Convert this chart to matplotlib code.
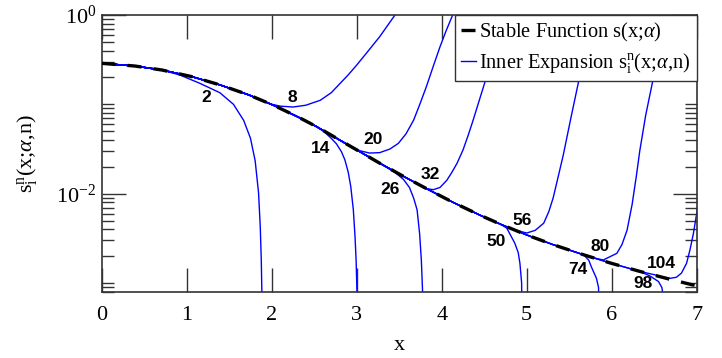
import numpy as np
import matplotlib.pyplot as plt
from matplotlib.ticker import LogLocator, NullFormatter

plt.rcParams['font.family'] = 'Liberation Serif'
plt.rcParams['mathtext.fontset'] = 'custom'
plt.rcParams['mathtext.rm'] = 'Liberation Serif'
plt.rcParams['mathtext.it'] = 'Liberation Serif:italic'

# stable density s(x; alpha)
stable_x = [0.0, 0.39, 0.71, 1.06, 1.39, 1.73, 2.04, 2.33, 2.53, 2.92, 3.24, 3.51,
            3.82, 4.14, 4.45, 4.69, 5.00, 5.31, 5.67, 5.98, 6.33, 6.72, 7.00]
stable_y = [0.2877, 0.2685, 0.2421, 0.2042, 0.1652, 0.1276, 0.0959, 0.0706, 0.0561,
            0.0342, 0.0228, 0.0164, 0.0114, 0.00794, 0.00575, 0.00456, 0.00345,
            0.00269, 0.00207, 0.00168, 0.00135, 0.00108, 0.00093]

# truncated inner expansions: each runs along the stable curve up to
# the given index, then follows its own tail
x2 = [0.92, 1.155, 1.39, 1.55, 1.67, 1.75, 1.805, 1.845, 1.865, 1.877, 1.884, 1.888]
y2 = [0.2128, 0.1718, 0.1349, 0.1000, 0.0661, 0.0417, 0.0234, 0.01023, 0.00427,
      0.00182, 0.00079, 0.0001]

x8 = [1.98, 2.10, 2.25, 2.40, 2.57, 2.70, 2.80, 2.90, 3.00, 3.12, 3.27, 3.45, 3.52]
y8 = [0.1012, 0.0955, 0.0933, 0.0977, 0.1109, 0.1349, 0.1698, 0.2138, 0.2754, 0.3802,
      0.5715, 1.0, 1.202]

x14 = [2.62, 2.70, 2.76, 2.82, 2.86, 2.90, 2.93, 2.96, 2.98, 2.993, 3.003, 3.01]
y14 = [0.0490, 0.0417, 0.0363, 0.0295, 0.0240, 0.0174, 0.0120, 0.00661, 0.00331,
       0.00178, 0.00079, 0.0001]

x20 = [3.04, 3.15, 3.27, 3.39, 3.49, 3.58, 3.67, 3.75, 3.82, 3.90, 3.98, 4.05, 4.12, 4.16]
y20 = [0.0302, 0.0285, 0.0288, 0.0316, 0.0366, 0.0468, 0.0668, 0.1047, 0.1585, 0.2661,
       0.4416, 0.6607, 0.955, 1.202]

x26 = [3.45, 3.55, 3.62, 3.67, 3.71, 3.74, 3.76, 3.775, 3.782]
y26 = [0.0173, 0.01445, 0.01175, 0.00891, 0.00661, 0.00355, 0.00182, 0.00079, 0.0001]

x32 = [3.90, 3.98, 4.06, 4.12, 4.18, 4.25, 4.31, 4.37, 4.44, 4.51, 4.60, 4.68, 4.76, 4.80]
y32 = [0.01109, 0.01175, 0.01413, 0.01738, 0.02188, 0.0308, 0.0447, 0.0668, 0.1096,
       0.1795, 0.339, 0.603, 1.047, 1.318]

x50 = [4.765, 4.86, 4.90, 4.92, 4.94, 4.948]
y50 = [0.00412, 0.00279, 0.00219, 0.00166, 0.0010, 0.0001]

x56 = [4.85, 5.0, 5.1, 5.2, 5.26, 5.31, 5.37, 5.43, 5.52, 5.61, 5.69, 5.77, 5.80]
y56 = [0.00394, 0.00363, 0.00389, 0.00468, 0.00631, 0.00891, 0.01549, 0.0271, 0.0708,
       0.1795, 0.407, 0.933, 1.20]

x74 = [5.73, 5.76, 5.82, 5.845, 5.858]
y74 = [0.0018, 0.00152, 0.00113, 0.00089, 0.0001]

x80 = [5.80, 5.90, 6.06, 6.12, 6.18, 6.24, 6.29, 6.33, 6.40, 6.48, 6.56, 6.63, 6.66]
y80 = [0.0019, 0.00181, 0.00215, 0.00269, 0.00389, 0.00759, 0.01585, 0.0302, 0.0759,
       0.1778, 0.417, 0.891, 1.20]

x98 = [6.45, 6.55, 6.59, 6.615, 6.625]
y98 = [0.0012, 0.00104, 0.00089, 0.00063, 0.0001]

x104 = [6.50, 6.60, 6.69, 6.76, 6.82, 6.88, 6.92, 6.96, 7.00, 7.04]
y104 = [0.00124, 0.00117, 0.00113, 0.00116, 0.00129, 0.00166, 0.00234, 0.00355, 0.00604, 0.0112]

# (n, number of leading stable points, tail x, tail y)
curves = [(2, 3, x2, y2), (8, 6, x8, y8), (14, 9, x14, y14), (20, 10, x20, y20),
          (26, 11, x26, y26), (32, 13, x32, y32), (50, 16, x50, y50), (56, 16, x56, y56),
          (74, 19, x74, y74), (80, 19, x80, y80), (98, 21, x98, y98), (104, 21, x104, y104)]

# label positions for the order n
label_n = [2, 8, 14, 20, 26, 32, 50, 56, 74, 80, 98, 104]
label_x = [1.23, 2.24, 2.57, 3.19, 3.39, 3.86, 4.64, 4.94, 5.60, 5.86, 6.37, 6.58]
label_y = [0.120, 0.120, 0.0322, 0.0399, 0.0112, 0.0166, 0.0029, 0.0050, 0.00143, 0.00255, 0.00099, 0.00166]

fig = plt.figure(figsize=(7.22, 3.58), dpi=100)
ax = fig.add_axes([0.1409, 0.1852, 0.8241, 0.7729])

for n, k, tx, ty in curves:
    xs = stable_x[:k] + tx
    ys = stable_y[:k] + ty
    inner_line, = ax.plot(xs, ys, color='#0000ff', lw=1.0, zorder=2)

stable_line, = ax.plot(stable_x, stable_y, color='black', lw=2.4, dashes=(4.2, 3.6), zorder=3)

for n, lx, ly in zip(label_n, label_x, label_y):
    ax.text(lx, ly, str(n), family='Liberation Sans', weight='bold', fontsize=12.5,
            ha='center', va='center', zorder=4)

ax.set_yscale('log')
ax.set_xlim(0, 7)
ax.set_ylim(8e-4, 1)
ax.set_xticks(range(8))
ax.set_yticks([1e-2, 1])
ax.set_yticklabels([r'$10^{-2}$', r'$10^{0}$'])
ax.yaxis.set_minor_locator(LogLocator(base=10, subs=np.arange(1, 10), numticks=50))
ax.yaxis.set_minor_formatter(NullFormatter())
ax.tick_params(which='both', direction='in', top=True, right=True, color='#333333')
ax.tick_params(which='major', length=17, width=1.0, labelsize=16)
ax.tick_params(axis='x', which='major', pad=10.5)
ax.tick_params(axis='y', which='major', pad=4)
ax.tick_params(which='minor', length=8.6, width=1.0)
for sp in ax.spines.values():
    sp.set_color('#333333')
    sp.set_linewidth(1.2)

ax.set_xlabel('x', fontsize=16, labelpad=8)
ax.set_ylabel(r'$\mathrm{s}_{\mathrm{i}}^{\mathrm{n}}$(x;$\alpha$,n)', fontsize=16, labelpad=11)

leg = ax.legend([stable_line, inner_line],
                [r'Stable Function s(x;$\alpha$)',
                 r'Inner Expansion $\mathrm{s}_{\mathrm{i}}^{\mathrm{n}}$(x;$\alpha$,n)'],
                loc='upper right', borderaxespad=0, fancybox=False, framealpha=1,
                edgecolor='#333333', handlelength=0.75, handletextpad=0.15,
                fontsize=14.7, labelspacing=0.35, borderpad=0.3)
leg.get_frame().set_linewidth(1.0)
leg.set_zorder(5)

fig.savefig('out.png', dpi=100)
